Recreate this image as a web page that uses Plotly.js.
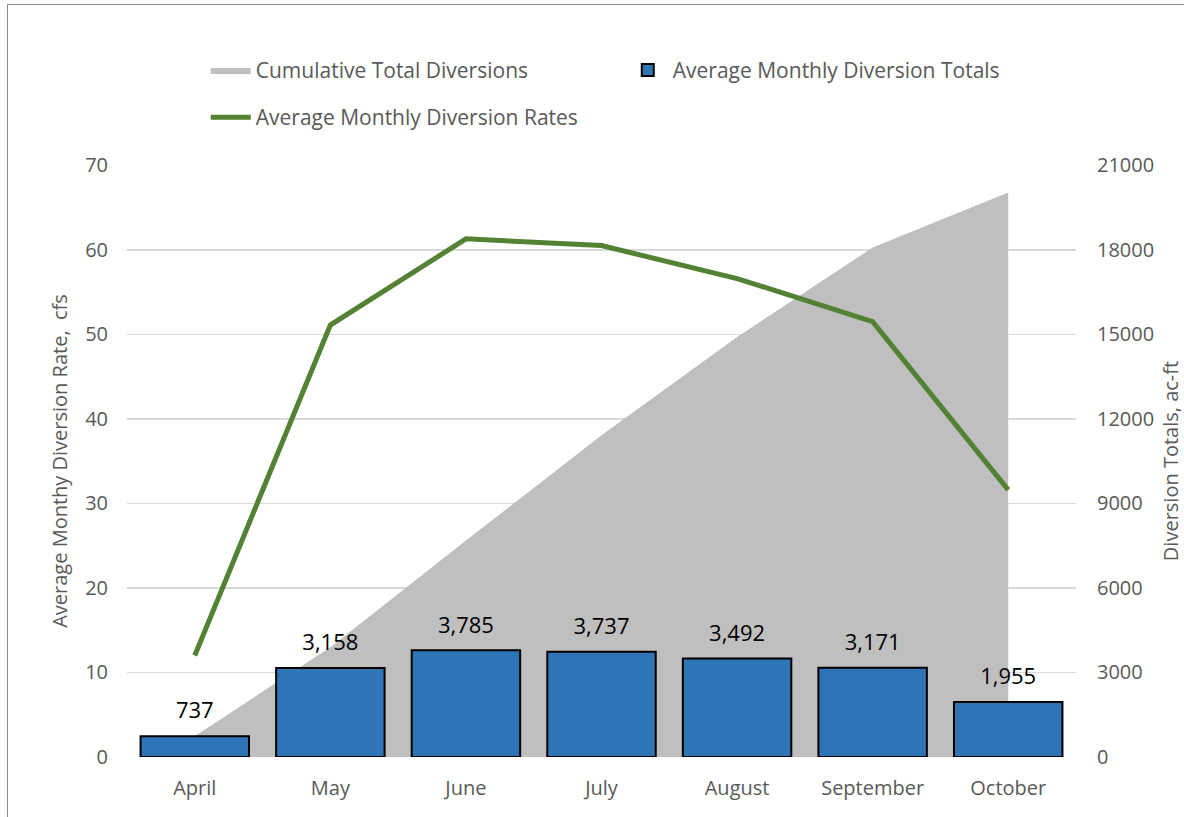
<!DOCTYPE html>
<html>
<head>
<meta charset="utf-8">
<script src="https://cdn.plot.ly/plotly-3.0.1.min.js"></script>
<style>
html,body{margin:0;padding:0;background:#fff;}
#chart{width:1184px;height:817px;}
#frame{position:absolute;left:7px;top:4px;width:1200px;height:900px;border-top:1px solid #8c8c8c;border-left:1px solid #8c8c8c;pointer-events:none;}
</style>
</head>
<body>
<div id="chart"></div>
<div id="frame"></div>
<script>
const months = ["April","May","June","July","August","September","October"];
const monthlyTotals = [737, 3158, 3785, 3737, 3492, 3171, 1955];
const cumulativeTotals = [737, 3895, 7680, 11417, 14909, 18080, 20035];
const diversionRates = [12.0, 51.1, 61.3, 60.5, 56.6, 51.5, 31.6];

const font = "Open Sans, Noto Sans, sans-serif";
const grey = "#595959";

const traces = [
  {
    type: "scatter", mode: "lines", name: "Cumulative Total Diversions",
    x: months, y: cumulativeTotals, yaxis: "y", legend: "legend",
    fill: "tozeroy", fillcolor: "#BFBFBF",
    line: {width: 0, color: "#BFBFBF"}, hoverinfo: "skip"
  },
  {
    type: "bar", name: "Average Monthly Diversion Totals",
    x: months, y: monthlyTotals, yaxis: "y2", legend: "legend",
    width: 0.8,
    marker: {color: "#2E75B6", line: {color: "#000000", width: 2}}
  },
  {
    type: "scatter", mode: "markers+text", showlegend: false,
    x: months, y: monthlyTotals, yaxis: "y2",
    marker: {size: 18, opacity: 0},
    texttemplate: "%{y:,}", textposition: "top center",
    textfont: {family: font, size: 22, color: "#000000"},
    cliponaxis: false, hoverinfo: "skip"
  },
  {
    type: "scatter", mode: "lines", name: "Average Monthly Diversion Rates",
    x: months, y: diversionRates, yaxis: "y3", legend: "legend2",
    line: {color: "#548235", width: 5}
  }
];

const legendCommon = {
  orientation: "h", xanchor: "left", yanchor: "middle",
  entrywidth: 362, entrywidthmode: "pixels",
  itemwidth: 40, bgcolor: "rgba(0,0,0,0)",
  font: {family: font, size: 21, color: grey},
  traceorder: "normal"
};

const layout = {
  width: 1184, height: 817,
  margin: {l: 127, r: 108, t: 165, b: 60},
  paper_bgcolor: "#ffffff", plot_bgcolor: "#ffffff",
  font: {family: font, color: grey, size: 20},
  showlegend: true,
  legend: Object.assign({}, legendCommon, {x: 0.083, xref: "paper", y: 1.16, yref: "paper"}),
  legend2: Object.assign({}, legendCommon, {x: 0.083, xref: "paper", y: 1.08, yref: "paper"}),
  xaxis: {
    type: "category", showgrid: false, zeroline: false,
    showline: false, ticks: "", ticklabelstandoff: 17,
    tickfont: {family: font, size: 20, color: grey}
  },
  yaxis: {
    range: [0, 21010], dtick: 3000, showgrid: true, gridcolor: "#D9D9D9", gridwidth: 1.5,
    zeroline: false, showline: false, ticks: "", showticklabels: false
  },
  yaxis2: {
    range: [0, 21010], dtick: 3000, overlaying: "y", side: "right",
    showgrid: false, zeroline: false, showline: false, ticks: "",
    ticklabelstandoff: 20, tickformat: "d",
    tickfont: {family: font, size: 20, color: grey},
    title: {text: "Diversion Totals, ac-ft", standoff: 10,
            font: {family: font, size: 20, color: grey}}
  },
  yaxis3: {
    range: [0, 70.0333], dtick: 10, overlaying: "y", side: "left",
    showgrid: false, zeroline: false, showline: false, ticks: "",
    ticklabelstandoff: 18,
    tickfont: {family: font, size: 20, color: grey},
    title: {text: "Average Monthy Diversion Rate,  cfs", standoff: 12,
            font: {family: font, size: 20, color: grey}}
  },
  bargap: 0.2
};

Plotly.newPlot("chart", traces, layout, {displayModeBar: false, staticPlot: true});
</script>
</body>
</html>
